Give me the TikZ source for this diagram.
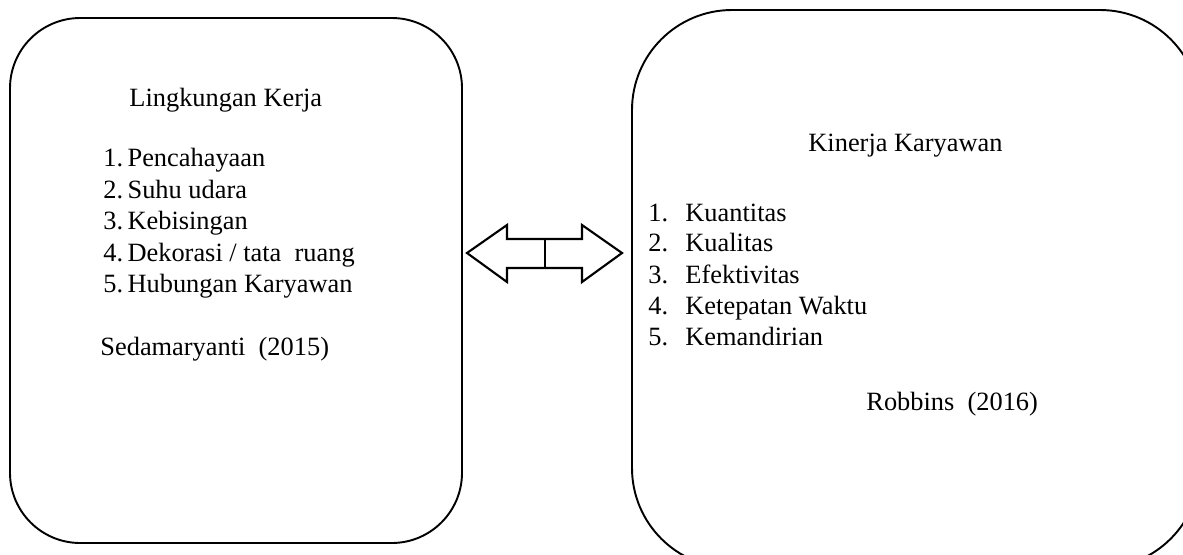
\documentclass[tikz,border=0pt]{standalone}
\usepackage{fontspec}
\setmainfont{Liberation Serif}
\begin{document}
\begin{tikzpicture}[
    x=0.47pt, y=-0.47pt,
    every node/.style={font=\fontsize{12.4}{14}\selectfont, inner sep=0pt},
    txt/.style={anchor=base west},
    panel/.style={draw=black, line width=0.9pt},
    arr/.style={draw=black, line width=1pt, line join=miter}
]
\clip (0,0) rectangle (1183,554);
% left panel
\draw[panel, rounded corners=33pt] (10,18) rectangle (462,543);
\node[txt] (lkTitle) at (129,106) {Lingkungan Kerja};
\node[txt] (lk1) at (103,166) {1.\,Pencahayaan};
\node[txt] (lk2) at (103,198) {2.\,Suhu udara};
\node[txt] (lk3) at (103,229) {3.\,Kebisingan};
\node[txt] (lk4) at (103,261) {4.\,Dekorasi / tata\ \ ruang};
\node[txt] (lk5) at (103,292) {5.\,Hubungan Karyawan};
\node[txt] (lkSrc) at (100,355) {Sedamaryanti\ \ (2015)};
% right panel
\draw[panel, rounded corners=47pt] (632,10) rectangle (1200,568);
\node[txt] (kkTitle) at (808,151) {Kinerja Karyawan};
\node[txt] (kk1) at (648,221) {1.}; \node[txt] at (685,221) {Kuantitas};
\node[txt] (kk2) at (648,251) {2.}; \node[txt] at (685,251) {Kualitas};
\node[txt] (kk3) at (648,283) {3.}; \node[txt] at (685,283) {Efektivitas};
\node[txt] (kk4) at (648,314) {4.}; \node[txt] at (685,314) {Ketepatan Waktu};
\node[txt] (kk5) at (648,345) {5.}; \node[txt] at (685,345) {Kemandirian};
\node[txt] (kkSrc) at (866,410) {Robbins\ \ (2016)};
% double arrow
\draw[arr] (467,253) -- (507,225) -- (507,239) -- (582,239) -- (582,225)
    -- (622,253) -- (582,282) -- (582,268) -- (507,268) -- (507,282) -- cycle;
\draw[arr] (545,239) -- (545,268);
\end{tikzpicture}
\end{document}
